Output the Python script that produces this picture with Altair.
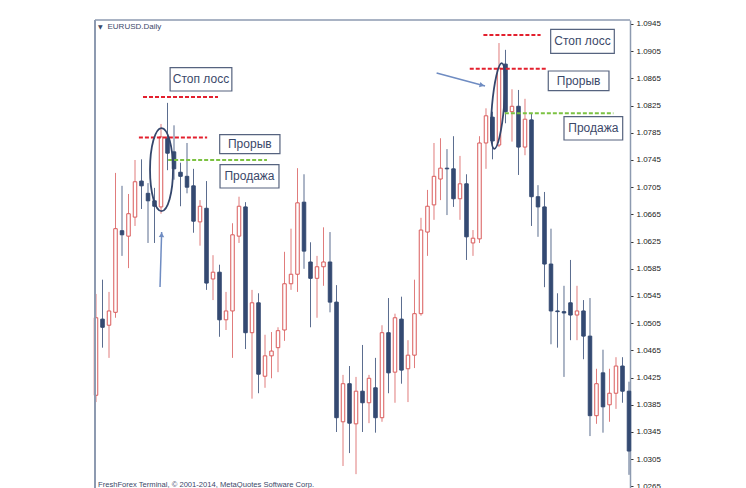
import altair as alt
import pandas as pd

# ---- candle data (EURUSD daily) ----
opens = [1.0399, 1.0511, 1.0502, 1.0521, 1.0641, 1.0633, 1.0661, 1.0714, 1.0696, 1.0685,
         1.0676, 1.0777, 1.0757, 1.0727, 1.0721, 1.0707, 1.0654, 1.0674, 1.0570, 1.0580,
         1.0510, 1.0523, 1.0633, 1.0676, 1.0491, 1.0535, 1.0427, 1.0457, 1.0469, 1.0495,
         1.0563, 1.0577, 1.0683, 1.0595, 1.0571, 1.0588, 1.0595, 1.0536, 1.0360, 1.0416,
         1.0357, 1.0405, 1.0388, 1.0410, 1.0366, 1.0491, 1.0433, 1.0511, 1.0438, 1.0458,
         1.0519, 1.0639, 1.0679, 1.0717, 1.0733, 1.0732, 1.0688, 1.0710, 1.0623, 1.0629,
         1.0770, 1.0808, 1.0767, 1.0886, 1.0816, 1.0824, 1.0764, 1.0804, 1.0691, 1.0676,
         1.0592, 1.0523, 1.0522, 1.0535, 1.0517, 1.0523, 1.0486, 1.0369, 1.0432, 1.0385,
         1.0402, 1.0442, 1.0405]
highs = [1.0548, 1.0569, 1.0551, 1.0726, 1.0707, 1.0695, 1.0745, 1.0746, 1.0711, 1.0704,
         1.0798, 1.0829, 1.0796, 1.0741, 1.0770, 1.0732, 1.0686, 1.0714, 1.0605, 1.0591,
         1.0551, 1.0652, 1.0691, 1.0683, 1.0554, 1.0549, 1.0488, 1.0492, 1.0499, 1.0610,
         1.0644, 1.0733, 1.0724, 1.0624, 1.0604, 1.0646, 1.0639, 1.0561, 1.0429, 1.0442,
         1.0426, 1.0473, 1.0429, 1.0454, 1.0502, 1.0542, 1.0519, 1.0544, 1.0480, 1.0569,
         1.0660, 1.0701, 1.0770, 1.0777, 1.0761, 1.0780, 1.0751, 1.0724, 1.0642, 1.0780,
         1.0821, 1.0816, 1.0917, 1.0907, 1.0849, 1.0848, 1.0835, 1.0814, 1.0708, 1.0698,
         1.0644, 1.0549, 1.0560, 1.0598, 1.0560, 1.0539, 1.0542, 1.0438, 1.0466, 1.0438,
         1.0455, 1.0455, 1.0419]
lows = [1.0389, 1.0469, 1.0454, 1.0513, 1.0604, 1.0586, 1.0648, 1.0673, 1.0623, 1.0623,
        1.0666, 1.0730, 1.0716, 1.0677, 1.0696, 1.0638, 1.0619, 1.0554, 1.0539, 1.0485,
        1.0495, 1.0454, 1.0623, 1.0467, 1.0394, 1.0402, 1.0410, 1.0424, 1.0433, 1.0479,
        1.0554, 1.0551, 1.0585, 1.0499, 1.0513, 1.0560, 1.0521, 1.0345, 1.0295, 1.0314,
        1.0283, 1.0345, 1.0358, 1.0344, 1.0360, 1.0402, 1.0388, 1.0416, 1.0389, 1.0439,
        1.0516, 1.0604, 1.0657, 1.0686, 1.0664, 1.0676, 1.0657, 1.0598, 1.0604, 1.0623,
        1.0732, 1.0746, 1.0764, 1.0799, 1.0772, 1.0723, 1.0752, 1.0648, 1.0632, 1.0558,
        1.0474, 1.0469, 1.0426, 1.0480, 1.0480, 1.0452, 1.0339, 1.0357, 1.0344, 1.0360,
        1.0379, 1.0388, 1.0282]
closes = [1.0513, 1.0499, 1.0523, 1.0644, 1.0635, 1.0666, 1.0713, 1.0707, 1.0685, 1.0677,
          1.0779, 1.0755, 1.0732, 1.0721, 1.0705, 1.0655, 1.0677, 1.0564, 1.0580, 1.0510,
          1.0523, 1.0635, 1.0677, 1.0491, 1.0535, 1.0430, 1.0457, 1.0464, 1.0494, 1.0563,
          1.0577, 1.0682, 1.0611, 1.0571, 1.0588, 1.0595, 1.0536, 1.0366, 1.0416, 1.0358,
          1.0405, 1.0388, 1.0424, 1.0366, 1.0491, 1.0432, 1.0513, 1.0436, 1.0458, 1.0519,
          1.0642, 1.0677, 1.0721, 1.0733, 1.0732, 1.0688, 1.0710, 1.0632, 1.0630, 1.0770,
          1.0810, 1.0773, 1.0880, 1.0816, 1.0824, 1.0764, 1.0805, 1.0691, 1.0676, 1.0592,
          1.0523, 1.0522, 1.0520, 1.0517, 1.0523, 1.0486, 1.0369, 1.0416, 1.0382, 1.0402,
          1.0442, 1.0405, 1.0317]

y_ticks = [1.0945, 1.0905, 1.0865, 1.0825, 1.0785, 1.0745, 1.0705, 1.0665, 1.0625,
           1.0585, 1.0545, 1.0505, 1.0465, 1.0425, 1.0385, 1.0345, 1.0305, 1.0265]

# ---- annotations (in bar-index / price units) ----
line_kind = ["stop", "break", "sell", "stop", "break", "sell"]
line_x1 = [7.23, 6.6, 11.1, 59.6, 57.5, 62.9]
line_x2 = [18.77, 17.1, 26.3, 68.4, 69.4, 79.6]
line_y = [1.08376, 1.07781, 1.0745, 1.09288, 1.08793, 1.08137]

box_label = ["Стоп лосс", "Прорыв", "Продажа", "Стоп лосс", "Прорыв", "Продажа"]
box_x1 = [11.4, 19.03, 19.08, 69.95, 69.58, 72.0]
box_x2 = [20.9, 28.3, 28.15, 79.74, 78.92, 81.03]
box_top = [1.08807, 1.07822, 1.07381, 1.09372, 1.08759, 1.08087]
box_bottom = [1.08465, 1.07543, 1.07038, 1.09019, 1.08469, 1.07744]

ell_x = [10.08, 61.85]
ell_y = [1.07309, 1.08244]

arr_x1 = [9.85, 52.4]
arr_y1 = [1.05582, 1.08729]
arr_x2 = [10.1, 59.85]
arr_y2 = [1.06391, 1.08538]
head_x = [10.09, 59.38]
head_y = [1.0635, 1.0855]

title_text = "EURUSD.Daily"
footer_text = "FreshForex Terminal, © 2001-2014, MetaQuotes Software Corp."

# ---- styling ----
NAVY = "#344a72"
NAVY_WICK = "#5b6d8f"
RED = "#d95a5a"
RED_WICK = "#e07c7c"
FRAME = "#8d9ab0"
TEXT = "#3b4869"
W, H = 535, 470

xs = alt.Scale(domain=[-0.154, 82.154], nice=False, zero=False, padding=0)
ys = alt.Scale(domain=[1.02597, 1.095088], nice=False, zero=False, padding=0)
yax = alt.Axis(orient="right", values=y_ticks, format=".4f", grid=False, title=None,
               domain=True, domainColor=FRAME, domainWidth=1.5, ticks=True, tickSize=3,
               tickColor="#333333", labelFontSize=8, labelColor="#222222",
               labelFont="Liberation Sans", labelPadding=3)

df = pd.DataFrame({"i": list(range(len(opens))), "open": opens, "high": highs,
                   "low": lows, "close": closes})
df["dir"] = ["up" if c >= o else "down" for o, c in zip(opens, closes)]

X = alt.X("i:Q", scale=xs, axis=None)

wicks = alt.Chart(df).mark_rule(strokeWidth=1).encode(
    x=X,
    y=alt.Y("low:Q", scale=ys, axis=yax),
    y2="high:Q",
    color=alt.Color("dir:N", scale=alt.Scale(domain=["up", "down"], range=[RED_WICK, NAVY_WICK]), legend=None),
)
bodies = alt.Chart(df).mark_bar(size=3.5, strokeWidth=1).encode(
    x=X,
    y=alt.Y("open:Q", scale=ys, axis=yax),
    y2="close:Q",
    fill=alt.Fill("dir:N", scale=alt.Scale(domain=["up", "down"], range=["#ffffff", NAVY]), legend=None),
    stroke=alt.Stroke("dir:N", scale=alt.Scale(domain=["up", "down"], range=[RED, NAVY]), legend=None),
)

lines_df = pd.DataFrame({"kind": line_kind, "x1": line_x1, "x2": line_x2, "y": line_y})


def dashed(kinds, colour):
    return alt.Chart(lines_df).transform_filter(
        alt.FieldOneOfPredicate(field="kind", oneOf=kinds)
    ).mark_rule(strokeWidth=2, strokeDash=[4, 2], color=colour).encode(
        x=alt.X("x1:Q", scale=xs, axis=None),
        x2="x2:Q",
        y=alt.Y("y:Q", scale=ys, axis=yax),
    )


red_lines = dashed(["stop", "break"], "#e3202e")
green_lines = dashed(["sell"], "#7cc242")

box_df = pd.DataFrame({"label": box_label, "x1": box_x1, "x2": box_x2,
                       "top": box_top, "bottom": box_bottom})
box_df["xc"] = (box_df["x1"] + box_df["x2"]) / 2
box_df["yc"] = (box_df["top"] + box_df["bottom"]) / 2
boxes = alt.Chart(box_df).mark_rect(fill="#ffffff", stroke="#56637f", strokeWidth=1.2).encode(
    x=alt.X("x1:Q", scale=xs, axis=None), x2="x2:Q",
    y=alt.Y("top:Q", scale=ys, axis=yax), y2="bottom:Q",
)
box_text = alt.Chart(box_df).mark_text(font="Liberation Sans", fontSize=12, color=TEXT,
                                       baseline="middle", align="center").encode(
    x=alt.X("xc:Q", scale=xs, axis=None),
    y=alt.Y("yc:Q", scale=ys, axis=yax),
    text="label:N",
)

ell_df = pd.DataFrame({"x": ell_x, "y": ell_y})
ell_left = alt.Chart(ell_df.iloc[[0]]).mark_point(
    shape="M0,-1A0.277,1,0,1,1,0,1A0.277,1,0,1,1,0,-1Z", size=6889, filled=False,
    stroke="#34466c", strokeWidth=1.8, opacity=1).encode(
    x=alt.X("x:Q", scale=xs, axis=None), y=alt.Y("y:Q", scale=ys, axis=yax))
ell_right = alt.Chart(ell_df.iloc[[1]]).mark_point(
    shape="M0,-1A0.14,1,0,1,1,0,1A0.14,1,0,1,1,0,-1Z", size=7396, filled=False, angle=5,
    stroke="#34466c", strokeWidth=1.8, opacity=1).encode(
    x=alt.X("x:Q", scale=xs, axis=None), y=alt.Y("y:Q", scale=ys, axis=yax))

arr_df = pd.DataFrame({"x1": arr_x1, "y1": arr_y1, "x2": arr_x2, "y2": arr_y2})
ARROW = "#6f8cc2"
arrows = alt.Chart(arr_df).mark_rule(strokeWidth=1.5, color=ARROW).encode(
    x=alt.X("x1:Q", scale=xs, axis=None), x2="x2:Q",
    y=alt.Y("y1:Q", scale=ys, axis=yax), y2="y2:Q")
head_df = pd.DataFrame({"x": head_x, "y": head_y})
head_left = alt.Chart(head_df.iloc[[0]]).mark_point(shape="triangle-up", size=30, filled=True,
                                                    color=ARROW, opacity=1, angle=2).encode(
    x=alt.X("x:Q", scale=xs, axis=None), y=alt.Y("y:Q", scale=ys, axis=yax))
head_right = alt.Chart(head_df.iloc[[1]]).mark_point(shape="triangle-right", size=30, filled=True,
                                                     color=ARROW, opacity=1, angle=15).encode(
    x=alt.X("x:Q", scale=xs, axis=None), y=alt.Y("y:Q", scale=ys, axis=yax))

one = pd.DataFrame({"a": [0]})
top_border = alt.Chart(one).mark_rule(color=FRAME, strokeWidth=1.5).encode(
    x=alt.value(0), x2=alt.value(W), y=alt.value(0))
left_border = alt.Chart(one).mark_rule(color=FRAME, strokeWidth=2).encode(
    x=alt.value(0), y=alt.value(0), y2=alt.value(H))

title_mark = alt.Chart(one).mark_text(text="▼", fontSize=6, color=TEXT, align="left",
                                      baseline="middle", font="DejaVu Sans").encode(
    x=alt.value(3), y=alt.value(7))
title_txt = alt.Chart(one).mark_text(text=title_text, fontSize=8, color=TEXT, align="left",
                                     baseline="middle", font="Liberation Sans").encode(
    x=alt.value(12.5), y=alt.value(7))
footer = alt.Chart(one).mark_text(text=footer_text, fontSize=7.6, color=TEXT, align="left",
                                  baseline="middle", font="Liberation Sans").encode(
    x=alt.value(3), y=alt.value(H - 5))

chart = alt.layer(
    wicks, bodies, red_lines, green_lines, ell_left, ell_right, arrows, head_left, head_right,
    boxes, box_text, top_border, left_border, title_mark, title_txt, footer,
).properties(
    width=W, height=H,
    background="#ffffff",
    padding={"left": 87, "top": 12, "right": 60, "bottom": 0},
    autosize=alt.AutoSizeParams(type="none"),
).configure_view(stroke="transparent")

chart.save("out.html", embed_options={"renderer": "svg", "actions": False})
